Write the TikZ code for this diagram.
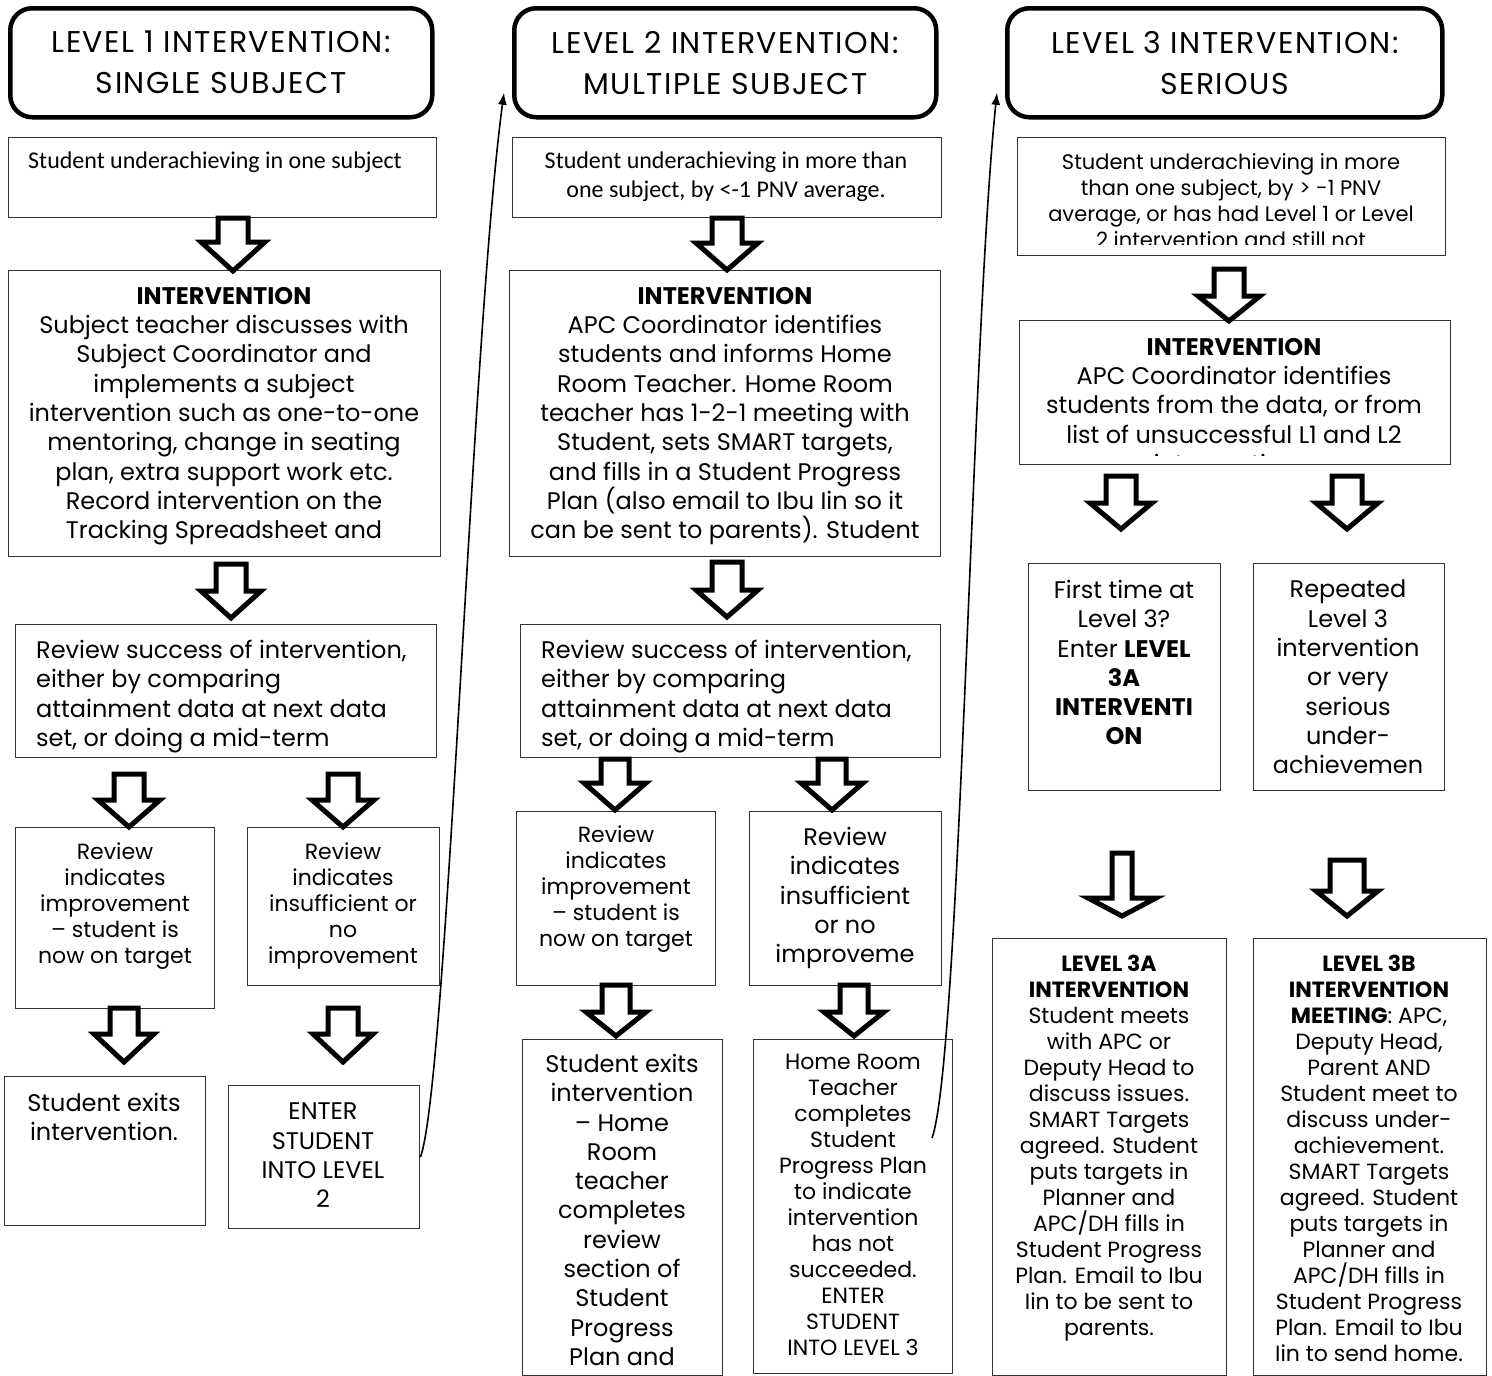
\documentclass[tikz,border=0pt]{standalone}
\usepackage{fontspec}
\setmainfont{Poppins}
\newfontfamily\calfont{Carlito}
\newfontfamily\titlefont[LetterSpace=5]{Poppins}
\usetikzlibrary{arrows.meta,calc,positioning}

% hollow block arrow pointing down: x, top, head start, tip, shaft half, head half
\newcommand{\blockdown}[6]{%
  \draw[fat] (#1-#5,#2) -- (#1+#5,#2) -- (#1+#5,#3) -- (#1+#6,#3)
    -- (#1,#4) -- (#1-#6,#3) -- (#1-#5,#3) -- cycle;}

\begin{document}
\begin{tikzpicture}[x=1pt,y=-1pt,
  title/.style={draw,line width=4.5pt,rounded corners=22pt,anchor=north west,
    align=center,font=\titlefont\fontsize{30}{41}\selectfont},
  box/.style={draw=black!80,line width=1.4pt,anchor=north west},
  big/.style={anchor=north,align=center,inner sep=0pt,
    font=\fontsize{24}{29.3}\selectfont},
  small/.style={anchor=north,align=center,inner sep=0pt,
    font=\fontsize{22}{26}\selectfont},
  cal/.style={anchor=north,align=center,inner sep=0pt,
    font=\calfont\fontsize{24}{29}\selectfont},
  fat/.style={draw,line width=5pt,fill=white,miter limit=20},
  loop/.style={line width=1.6pt,-{Latex[length=12pt,width=9pt]}}]
%
  \useasboundingbox (0,0) rectangle (1492,1376);
%
% level 1
  \node[title,minimum width=422pt,minimum height=109pt] (t1) at (8,6)
    {LEVEL 1 INTERVENTION:\\SINGLE SUBJECT};
  \node[box,minimum width=428pt,minimum height=80pt] (a1) at (8,137) {};
  \node[cal,anchor=north west] (a1t) at (28,152)
    {Student underachieving in one subject};
  \node[box,minimum width=432pt,minimum height=286pt] (b1) at (8,270) {};
  \node[big] (b1t) at (224,287)
    {\textbf{INTERVENTION}\\Subject teacher discusses with\\Subject Coordinator and\\
     implements a subject\\intervention such as one-to-one\\mentoring, change in seating\\
     plan, extra support work etc.\\Record intervention on the\\Tracking Spreadsheet and};
  \node[box,minimum width=421pt,minimum height=133pt] (c1) at (15,624) {};
  \node[big,anchor=north west,align=left] (c1t) at (36,640)
    {Review success of intervention,\\either by comparing\\attainment data at next data\\
     set, or doing a mid-term};
  \node[box,minimum width=199pt,minimum height=181pt] (d1a) at (15,827) {};
  \node[small] (d1at) at (115,843)
    {Review\\indicates\\improvement\\-- student is\\now on target};
  \node[box,minimum width=192pt,minimum height=158pt] (d1b) at (247,827) {};
  \node[small] (d1bt) at (343,843)
    {Review\\indicates\\insufficient or\\no\\improvement};
  \node[box,minimum width=201pt,minimum height=149pt] (e1a) at (4,1076) {};
  \node[big] (e1at) at (104,1093) {Student exits\\intervention.};
  \node[box,minimum width=191pt,minimum height=143pt] (e1b) at (228,1085) {};
  \node[big] (e1bt) at (323,1103) {ENTER\\STUDENT\\INTO LEVEL\\2};
%
  \blockdown{233}{218}{242}{271}{15}{32}
  \blockdown{231}{564}{591}{618}{15}{30}
  \blockdown{129}{774}{800}{827}{15}{31}
  \blockdown{343}{774}{800}{827}{15}{31}
  \blockdown{124}{1008}{1034}{1062}{14}{30}
  \blockdown{343}{1008}{1034}{1062}{15}{30}
%
% level 2
  \node[title,minimum width=422pt,minimum height=109pt] (t2) at (512,6)
    {LEVEL 2 INTERVENTION:\\MULTIPLE SUBJECT};
  \node[box,minimum width=429pt,minimum height=80pt] (a2) at (512,137) {};
  \node[cal] (a2t) at (726,152)
    {Student underachieving in more than\\one subject, by <-1 PNV average.};
  \node[box,minimum width=431pt,minimum height=286pt] (b2) at (509,270) {};
  \node[big] (b2t) at (725,287)
    {\textbf{INTERVENTION}\\APC Coordinator identifies\\students and informs Home\\
     Room Teacher. Home Room\\teacher has 1-2-1 meeting with\\Student, sets SMART targets,\\
     and fills in a Student Progress\\Plan (also email to Ibu Iin so it\\
     can be sent to parents). Student};
  \node[box,minimum width=420pt,minimum height=133pt] (c2) at (520,624) {};
  \node[big,anchor=north west,align=left] (c2t) at (541,640)
    {Review success of intervention,\\either by comparing\\attainment data at next data\\
     set, or doing a mid-term};
  \node[box,minimum width=199pt,minimum height=174pt] (d2a) at (516,811) {};
  \node[small] (d2at) at (616,826)
    {Review\\indicates\\improvement\\-- student is\\now on target};
  \node[box,minimum width=192pt,minimum height=174pt] (d2b) at (749,811) {};
  \node[big] (d2bt) at (845,827)
    {Review\\indicates\\insufficient\\or no\\improveme};
  \node[box,minimum width=200pt,minimum height=336pt] (e2a) at (522,1039) {};
  \node[big] (e2at) at (622,1054)
    {Student exits\\intervention\\-- Home\\Room\\teacher\\completes\\review\\section of\\
     Student\\Progress\\Plan and};
  \node[box,minimum width=199pt,minimum height=334pt] (e2b) at (753,1039) {};
  \node[small] (e2bt) at (853,1054)
    {Home Room\\Teacher\\completes\\Student\\Progress Plan\\to indicate\\intervention\\
     has not\\succeeded.\\ENTER\\STUDENT\\INTO LEVEL 3};
  \coordinate (e2bout) at (932,1138);
%
  \blockdown{727}{218}{243}{270}{15}{31}
  \blockdown{727}{562}{590}{617}{15}{31}
  \blockdown{615}{759}{783}{810}{14}{31}
  \blockdown{832}{759}{783}{810}{14}{31}
  \blockdown{616}{985}{1012}{1036}{14}{30}
  \blockdown{854}{985}{1012}{1036}{14}{30}
%
% level 3
  \node[title,minimum width=435pt,minimum height=109pt] (t3) at (1005,6)
    {LEVEL 3 INTERVENTION:\\SERIOUS};
  \node[box,minimum width=428pt,minimum height=118pt] (a3) at (1017,137) {};
  \begin{scope}
    \clip (1017,137) rectangle (1445,244);
    \node[small,font=\fontsize{21}{26}\selectfont] (a3t) at (1231,153)
      {Student underachieving in more\\than one subject, by > -1 PNV\\
       average, or has had Level 1 or Level\\2 intervention and still not};
  \end{scope}
  \node[box,minimum width=431pt,minimum height=144pt] (b3) at (1019,320) {};
  \begin{scope}
    \clip (1019,320) rectangle (1450,455);
    \node[big] (b3t) at (1234,338)
      {\textbf{INTERVENTION}\\APC Coordinator identifies\\students from the data, or from\\
       list of unsuccessful L1 and L2\\interventions.};
  \end{scope}
  \node[box,minimum width=192pt,minimum height=227pt] (d3a) at (1028,563) {};
  \node[big] (d3at) at (1124,580)
    {First time at\\Level 3?\\Enter \textbf{LEVEL}\\\textbf{3A}\\\textbf{INTERVENTI}\\\textbf{ON}};
  \node[box,minimum width=191pt,minimum height=227pt] (d3b) at (1253,563) {};
  \node[big] (d3bt) at (1348,580)
    {Repeated\\Level 3\\intervention\\or very\\serious\\under-\\achievemen};
  \node[box,minimum width=234pt,minimum height=437pt] (e3a) at (992,938) {};
  \node[small] (e3at) at (1109,955)
    {\textbf{LEVEL 3A}\\\textbf{INTERVENTION}\\Student meets\\with APC or\\Deputy Head to\\
     discuss issues.\\SMART Targets\\agreed. Student\\puts targets in\\Planner and\\
     APC/DH fills in\\Student Progress\\Plan. Email to Ibu\\Iin to be sent to\\parents.};
  \node[box,minimum width=233pt,minimum height=437pt] (e3b) at (1253,938) {};
  \node[small] (e3bt) at (1369,955)
    {\textbf{LEVEL 3B}\\\textbf{INTERVENTION}\\\textbf{MEETING}: APC,\\Deputy Head,\\
     Parent AND\\Student meet to\\discuss under-\\achievement.\\SMART Targets\\
     agreed. Student\\puts targets in\\Planner and\\APC/DH fills in\\Student Progress\\
     Plan. Email to Ibu\\Iin to send home.};
%
  \blockdown{1229}{269}{296}{321}{15}{31}
  \blockdown{1121}{476}{503}{529}{15}{31}
  \blockdown{1347}{476}{503}{529}{15}{31}
  \blockdown{1122}{853}{898}{916}{10}{34}
  \blockdown{1347}{860}{891}{916}{17}{31}
%
% moves up a level
  \draw[loop] (e1b.east) .. controls (447,1085) and (472,330)
    .. ([xshift=-8pt,yshift=-30pt]t2.west);
  \draw[loop] (e2bout) .. controls (960,1060) and (972,330)
    .. ([xshift=-8pt,yshift=-30pt]t3.west);
%
\end{tikzpicture}
\end{document}
